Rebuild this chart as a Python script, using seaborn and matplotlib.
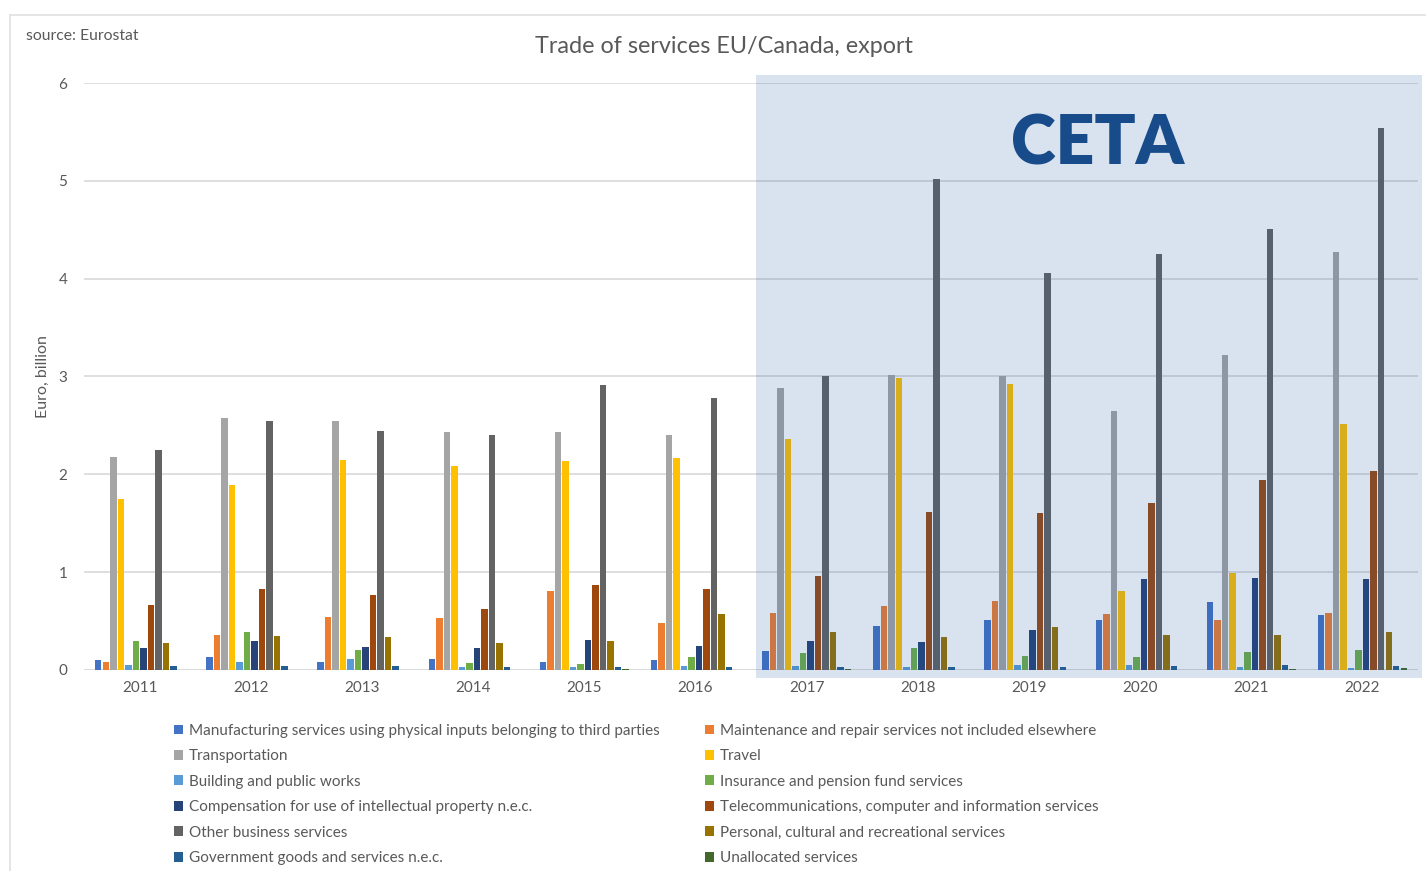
import matplotlib
matplotlib.use("Agg")
import matplotlib.pyplot as plt
from matplotlib.patches import Rectangle, Patch
from matplotlib.lines import Line2D
import seaborn as sns
import pandas as pd

# --- data (EUR billion, EU exports of services to Canada) ---
years = ["2011", "2012", "2013", "2014", "2015", "2016",
         "2017", "2018", "2019", "2020", "2021", "2022"]

manufacturing = [0.10, 0.13, 0.08, 0.11, 0.08, 0.10, 0.19, 0.45, 0.51, 0.51, 0.69, 0.56]
maintenance   = [0.08, 0.36, 0.54, 0.53, 0.81, 0.48, 0.58, 0.65, 0.70, 0.57, 0.51, 0.58]
transportation = [2.18, 2.58, 2.54, 2.43, 2.43, 2.40, 2.88, 3.02, 3.00, 2.65, 3.22, 4.27]
travel        = [1.75, 1.89, 2.15, 2.09, 2.14, 2.17, 2.36, 2.98, 2.92, 0.81, 0.99, 2.51]
building      = [0.05, 0.08, 0.11, 0.03, 0.03, 0.045, 0.04, 0.03, 0.05, 0.055, 0.03, 0.025]
insurance     = [0.30, 0.39, 0.20, 0.075, 0.065, 0.135, 0.17, 0.22, 0.145, 0.13, 0.18, 0.20]
intellectual  = [0.22, 0.30, 0.235, 0.22, 0.31, 0.24, 0.30, 0.29, 0.41, 0.93, 0.94, 0.93]
telecom       = [0.665, 0.83, 0.77, 0.62, 0.87, 0.83, 0.965, 1.61, 1.60, 1.71, 1.94, 2.03]
other_business = [2.25, 2.54, 2.44, 2.40, 2.91, 2.78, 3.00, 5.02, 4.06, 4.25, 4.51, 5.54]
personal      = [0.28, 0.345, 0.335, 0.28, 0.30, 0.575, 0.385, 0.34, 0.44, 0.36, 0.355, 0.385]
government    = [0.045, 0.04, 0.04, 0.03, 0.03, 0.035, 0.03, 0.035, 0.03, 0.04, 0.05, 0.04]
unallocated   = [0.0, 0.0, 0.0, 0.0, 0.01, 0.0, 0.01, 0.0, 0.0, 0.0, 0.007, 0.017]

categories = [
    "Manufacturing services using physical inputs belonging to third parties",
    "Maintenance and repair services not included elsewhere",
    "Transportation",
    "Travel",
    "Building and public works",
    "Insurance and pension fund services",
    "Compensation for use of intellectual property n.e.c.",
    "Telecommunications, computer and information services",
    "Other business services",
    "Personal, cultural and recreational services",
    "Government goods and services n.e.c.",
    "Unallocated services",
]
series = [manufacturing, maintenance, transportation, travel, building, insurance,
          intellectual, telecom, other_business, personal, government, unallocated]
colors = ["#4472C4", "#ED7D31", "#A5A5A5", "#FFC000", "#5B9BD5", "#70AD47",
          "#264478", "#9E480E", "#636363", "#997300", "#255E91", "#43682B"]

rows = []
for cat, vals in zip(categories, series):
    for yr, v in zip(years, vals):
        rows.append({"year": yr, "category": cat, "value": v})
df = pd.DataFrame(rows)

# --- figure ---
sns.set_theme(style="white")
plt.rcParams["font.family"] = ["Lato", "DejaVu Sans"]
text_color = "#595959"

fig = plt.figure(figsize=(14.26, 8.71), dpi=100)
ax = fig.add_axes([0.0589, 0.2308, 0.9355, 0.6739])

sns.barplot(data=df, x="year", y="value", hue="category",
            order=years, hue_order=categories, palette=colors,
            width=0.81, gap=0.15, saturation=1, linewidth=0,
            legend=False, ax=ax, zorder=3)

ax.set_xlim(-0.5, 11.5)
ax.set_ylim(0, 6)
ax.set_yticks(range(0, 7))
ax.yaxis.grid(True, color="#D9D9D9", linewidth=1.2, zorder=0)
ax.set_axisbelow(True)
for s in ax.spines.values():
    s.set_visible(False)
ax.axhline(0, color="#D9D9D9", linewidth=1.2, zorder=2)
ax.tick_params(axis="both", length=0, labelsize=11, labelcolor=text_color)
ax.tick_params(axis="y", pad=12)
ax.tick_params(axis="x", pad=8)
ax.set_xlabel("")
ax.set_ylabel("Euro, billion", fontsize=11.5, color=text_color, labelpad=6)

# CETA period shading (2017 onwards)
ax.add_patch(Rectangle((5.545, -0.08), 5.99, 6.16, facecolor="#1F5AA7", alpha=0.17,
                       edgecolor="none", zorder=5, clip_on=False))
ax.text(0.76, 0.895, "CETA", transform=ax.transAxes, ha="center", va="center",
        fontsize=49, fontweight="heavy", color="#184B8A", zorder=6,
        family=["Lato", "DejaVu Sans"])

# titles
fig.text(0.508, 0.947, "Trade of services EU/Canada, export", ha="center", va="center",
         fontsize=16.8, color=text_color)
fig.text(0.018, 0.959, "source: Eurostat", ha="left", va="center",
         fontsize=11.3, color=text_color)

# legend, two columns
order = [0, 2, 4, 6, 8, 10, 1, 3, 5, 7, 9, 11]
handles = [Patch(facecolor=colors[i], edgecolor="none") for i in order]
labels = [categories[i] for i in order]
fig.legend(handles, labels, ncol=2, loc="upper left", bbox_to_anchor=(0.1175, 0.176),
           frameon=False, fontsize=11, labelcolor=text_color,
           handlelength=0.6, handleheight=0.6, handletextpad=0.4,
           columnspacing=2.95, labelspacing=0.75, borderaxespad=0)

# outer frame
fig.add_artist(Line2D([0.007, 1.0], [0.983, 0.983], color="#E0E0E0", linewidth=1.2))
fig.add_artist(Line2D([0.007, 0.007], [0.0, 0.983], color="#E0E0E0", linewidth=1.2))

fig.savefig("out.png", dpi=100)
